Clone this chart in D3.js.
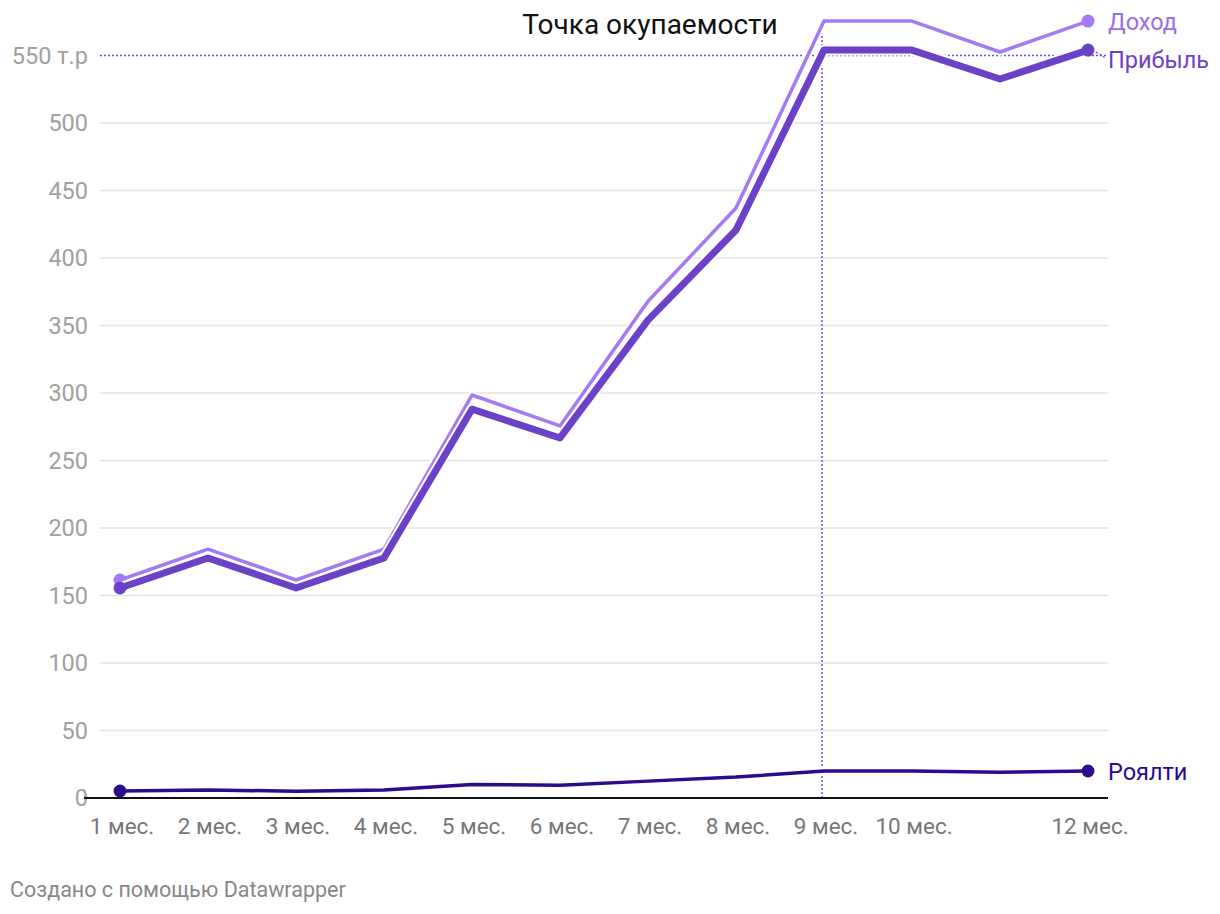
<!DOCTYPE html>
<html><head><meta charset="utf-8">
<script src="https://cdn.jsdelivr.net/npm/d3@7"></script>
<style>
html,body{margin:0;padding:0;background:#fff;}
svg{display:block;font-family:Roboto, "Noto Sans", sans-serif;}
</style></head>
<body>
<svg id="chart" width="1220" height="914"></svg>
<script>
const months = [1,2,3,4,5,6,7,8,9,10,11,12];
const xTickValues = [1,2,3,4,5,6,7,8,9,10,12];
const xTickLabels = ["1 мес.","2 мес.","3 мес.","4 мес.","5 мес.","6 мес.","7 мес.","8 мес.","9 мес.","10 мес.","12 мес."];
const yTickValues = [0,50,100,150,200,250,300,350,400,450,500,550];
const dohod   = [161.5,184.4,161.5,184.4,298.5,275.6,368,437,575.5,575.5,552.6,575.5];
const pribyl  = [155.6,177.8,155.6,177.8,288,266.7,354,420.7,554,554,532.6,554];
const royalty = [5.2,6,5,6,10,9.5,12.5,15.5,20,20,19,20];
const seriesNames = ["Доход","Прибыль","Роялти"];
const breakEvenMonth = 9;
const breakEvenLevel = 550;
const annotationText = "Точка окупаемости";
const footerText = "Создано с помощью Datawrapper";

const svg = d3.select("#chart");
const x = d3.scaleLinear().domain([1,12]).range([120,1088]);
const y = d3.scaleLinear().domain([0,550]).range([798,55.5]);

// gridlines
svg.append("g").selectAll("line").data(yTickValues.filter(v=>v>0 && v<550)).join("line")
  .attr("x1",100).attr("x2",1108).attr("y1",d=>y(d)).attr("y2",d=>y(d))
  .attr("stroke","#e3e3e3").attr("stroke-width",1.5);

// y labels
svg.append("g").selectAll("text").data(yTickValues).join("text")
  .attr("x",88).attr("y",d=>y(d)+8)
  .attr("text-anchor","end").attr("fill","#a0a0a0").attr("font-size",23.5)
  .text(d=> d===550 ? "550 т.р" : d);

// break-even horizontal dotted line
svg.append("line").attr("x1",100).attr("x2",1108).attr("y1",y(breakEvenLevel)).attr("y2",y(breakEvenLevel))
  .attr("stroke","#6a4fd2").attr("stroke-width",1.5).attr("stroke-dasharray","2,2");
// vertical dotted line
svg.append("line").attr("x1",x(breakEvenMonth)-2).attr("x2",x(breakEvenMonth)-2)
  .attr("y1",20).attr("y2",798)
  .attr("stroke","#6a4fd2").attr("stroke-width",1.5).attr("stroke-dasharray","2,2");

// annotation
svg.append("text").attr("x",650).attr("y",34).attr("text-anchor","middle")
  .attr("fill","#111").attr("font-size",28).text(annotationText);

// x axis baseline
svg.append("line").attr("x1",84).attr("x2",1108).attr("y1",798).attr("y2",798)
  .attr("stroke","#111").attr("stroke-width",2);

// x labels
svg.append("g").selectAll("text").data(xTickValues).join("text")
  .attr("x",d=>x(d)+2).attr("y",834).attr("text-anchor","middle")
  .attr("fill","#777").attr("font-size",22.5)
  .text((d,i)=>xTickLabels[i]);

const line = d3.line().x((d,i)=>x(months[i])).y(d=>y(d));

const series = [
  {name:seriesNames[0], data:dohod, color:"#a679f7", width:3.5, r:6.5, textColor:"#9a6ee9", ly:22},
  {name:seriesNames[1], data:pribyl, color:"#6b41c8", width:7, r:6.5, textColor:"#6b41c8", ly:60},
  {name:seriesNames[2], data:royalty, color:"#2c0b8e", width:3.5, r:6.5, textColor:"#2c0b8e", ly:772}
];

[series[2], series[0], series[1]].forEach(s=>{
  svg.append("path").datum(s.data).attr("d",line)
    .attr("fill","none").attr("stroke","#fff").attr("stroke-width",s.width+4)
    .attr("stroke-linejoin","round");
  svg.append("path").datum(s.data).attr("d",line)
    .attr("fill","none").attr("stroke",s.color).attr("stroke-width",s.width)
    .attr("stroke-linejoin","round").attr("stroke-linecap","round");
  [0,11].forEach(i=>{
    svg.append("circle").attr("cx",x(months[i])).attr("cy",y(s.data[i])).attr("r",s.r)
      .attr("fill",s.color);
  });
});

svg.append("line").attr("x1",1096).attr("x2",1106).attr("y1",y(pribyl[11])+2).attr("y2",y(pribyl[11])+8)
  .attr("stroke","#6a4fd2").attr("stroke-width",1.2).attr("stroke-dasharray","2,2");

series.forEach(s=>{
  svg.append("text").attr("x",1108).attr("y",s.ly+8).attr("fill",s.textColor)
    .attr("font-size",23.5).text(s.name);
});

svg.append("text").attr("x",10).attr("y",897).attr("fill","#888").attr("font-size",21.5).text(footerText);
</script>
</body></html>
